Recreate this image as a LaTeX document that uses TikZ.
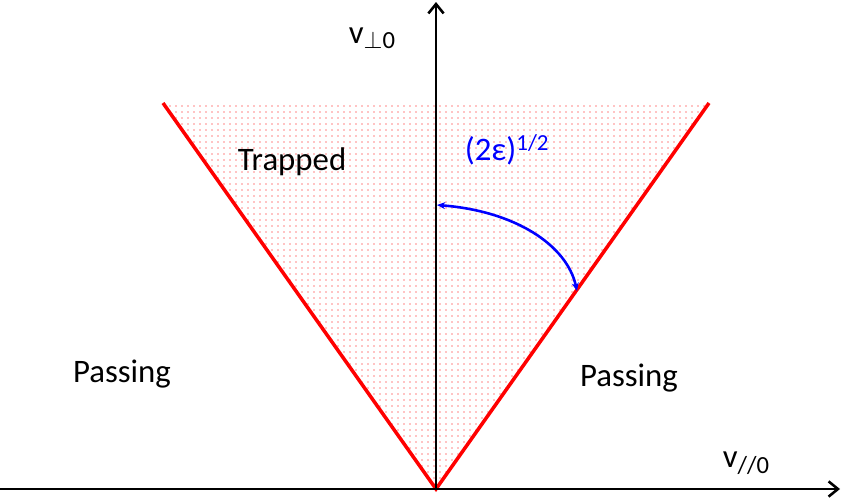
\documentclass[tikz,border=0pt]{standalone}
\usepackage{fontspec}
\setmainfont{Carlito}
\usepackage{tikz}
\usetikzlibrary{arrows.meta, patterns.meta}
\definecolor{myred}{RGB}{255,0,0}
\definecolor{myblue}{RGB}{0,0,255}
\definecolor{mydark}{RGB}{0,0,0}
\tikzdeclarepattern{
  name=sparsedots,
  type=uncolored,
  bottom left={(0pt,0pt)},
  top right={(5.5pt,5.5pt)},
  tile size={(5.5pt,5.5pt)},
  code={\fill (2.75pt,2.75pt) circle (0.6pt);}
}
\tikzset{
  axis/.style={-{Straight Barb[length=8pt,width=13pt,line width=2.2pt]}, line width=2.4pt, color=mydark},
  coneline/.style={draw=myred, line width=3pt},
  conefill/.style={pattern=sparsedots, pattern color=myred},
  anglearc/.style={{Stealth[length=7pt,width=6pt]}-{Stealth[length=7pt,width=6pt]}, line width=2.2pt, color=myblue},
  label/.style={font=\fontsize{28}{32}\selectfont, inner sep=0pt}
}

\begin{document}
\begin{tikzpicture}[x=0.03cm, y=-0.03cm]
  \useasboundingbox (0,0) rectangle (842,499);

  % Key points
  \coordinate (o) at (436,489);
  \coordinate (cl) at (163,103);
  \coordinate (cr) at (709,103);
  \coordinate (xstart) at (0,489);
  \coordinate (xtip) at (840,489);
  \coordinate (ytip) at (436,2);
  \coordinate (a1) at (577,291);
  \coordinate (a2) at (437,205);

  % Trapped cone
  \fill[conefill] (cl) -- (cr) -- (o) -- cycle;
  \draw[coneline] (cl) -- (o) -- (cr);

  % Axes
  \draw[axis] (xstart) -- (xtip);
  \draw[axis] (o) -- (ytip);

  % Pitch angle arc
  \draw[anglearc] (a2) .. controls (515,211) and (567,245) .. (a1);

  % Labels
  \node[label] (vperp) at (372,38) {v\raisebox{-0.35ex}{\fontsize{21}{24}\selectfont$\perp$0}};
  \node[label] (vpar) at (746,463) {v\raisebox{-0.35ex}{\fontsize{21}{24}\selectfont//0}};
  \node[label] (trapped) at (292,162) {Trapped};
  \node[label] (passL) at (122,374) {Passing};
  \node[label] (passR) at (629,378) {Passing};
  \node[label, text=myblue] (eps) at (507,150) {(2ε)\textsuperscript{1/2}};
\end{tikzpicture}
\end{document}
